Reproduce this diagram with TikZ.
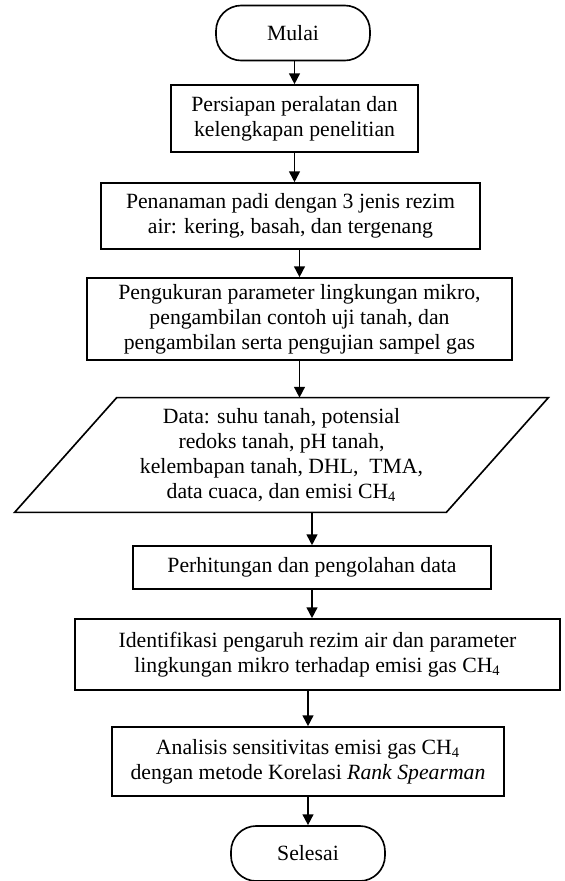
\documentclass[tikz,border=0pt]{standalone}
\usepackage{fontspec}
\setmainfont{Liberation Serif}
\usetikzlibrary{arrows.meta,calc}

\begin{document}
\begin{tikzpicture}[x=0.552pt,y=-0.552pt,
    every node/.style={font=\fontsize{12}{13.8}\selectfont, align=center, inner sep=0pt},
    box/.style={draw, line width=0.9pt, rectangle},
    term/.style={draw, line width=0.9pt, rounded corners=14pt,
        minimum width=85pt, minimum height=30.4pt},
    flow/.style={line width=0.9pt, -{Triangle[length=6pt,width=6pt]}}]
    \useasboundingbox (0,0) rectangle (564,881);

    % Start
    \node[term] (start) at (293,33) {Mulai};

    % Steps
    \node[box, minimum width=136.3pt, minimum height=37pt] (prep) at (294.5,118.5)
        {Persiapan peralatan dan\\kelengkapan penelitian};
    \node[box, minimum width=209.2pt, minimum height=36.4pt] (plant) at (290.5,216)
        {Penanaman padi dengan 3 jenis rezim\\air: kering, basah, dan tergenang};
    \node[box, minimum width=234.6pt, minimum height=45.3pt] (meas) at (299.5,319)
        {Pengukuran parameter lingkungan mikro,\\pengambilan contoh uji tanah, dan\\pengambilan serta pengujian sampel gas};

    % Data (parallelogram)
    \node[minimum width=294.2pt, minimum height=62.9pt] (data) at (281.5,455)
        {Data: suhu tanah, potensial\\redoks tanah, pH tanah,\\kelembapan tanah, DHL,\ \ TMA,\\data cuaca, dan emisi CH\textsubscript{4}};
    \draw[line width=0.9pt] ($(data.north west)+(102,0)$) -- (data.north east)
        -- ($(data.south east)+(-102,0)$) -- (data.south west) -- cycle;

    \node[box, minimum width=197.6pt, minimum height=23.7pt] (calc) at (312,567.5)
        {Perhitungan dan pengolahan data};
    \node[box, minimum width=267.7pt, minimum height=39.2pt] (ident) at (317.5,654.5)
        {Identifikasi pengaruh rezim air dan parameter\\lingkungan mikro terhadap emisi gas CH\textsubscript{4}};
    \node[box, minimum width=216.4pt, minimum height=38.1pt] (anal) at (308,761.5)
        {Analisis sensitivitas emisi gas CH\textsubscript{4}\\dengan metode Korelasi \textit{Rank Spearman}};

    % End
    \node[term] (stop) at (308,853.5) {Selesai};

    % Arrows
    \draw[flow] (start.south -| prep) -- (prep.north);
    \draw[flow] (prep.south) -- (prep.south |- plant.north);
    \draw[flow] (plant.south -| meas) -- (meas.north);
    \draw[flow] (meas.south) -- (meas.south |- data.north);
    \draw[flow] (data.south -| calc) -- (calc.north);
    \draw[flow] (calc.south) -- (calc.south |- ident.north);
    \draw[flow] (ident.south -| anal) -- (anal.north);
    \draw[flow] (anal.south) -- (stop.north);
\end{tikzpicture}
\end{document}
